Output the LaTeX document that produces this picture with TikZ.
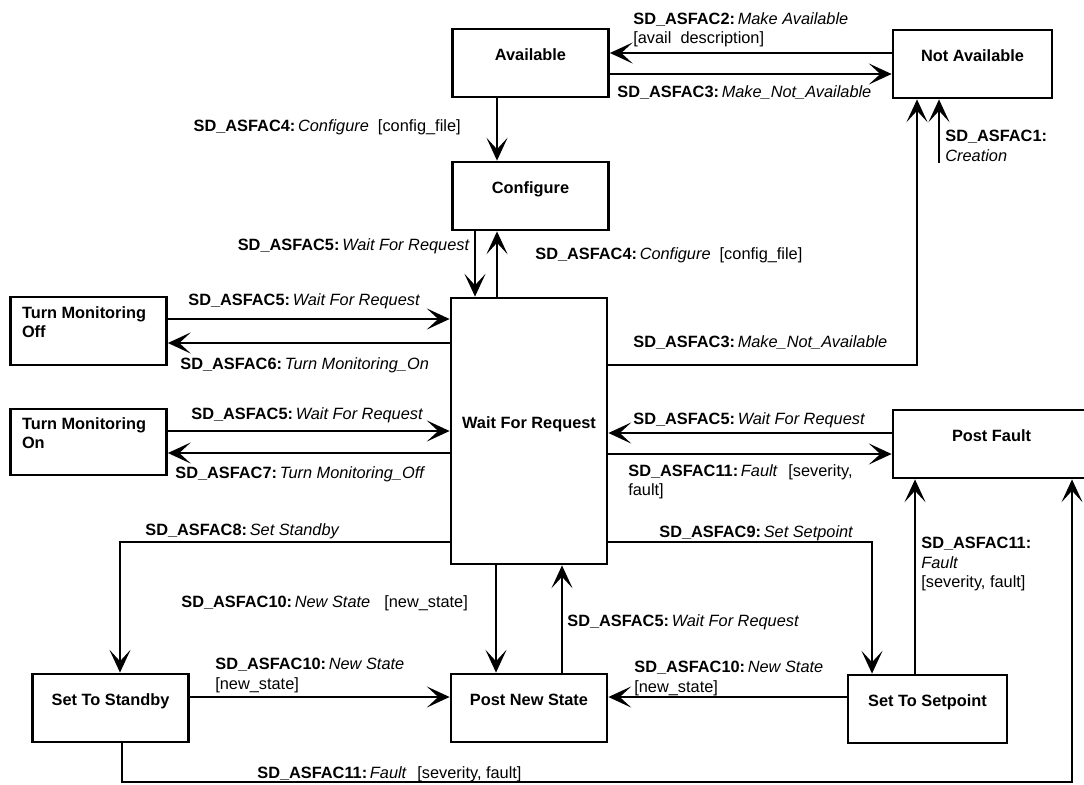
\documentclass[tikz,border=0pt]{standalone}
\usepackage{fontspec}
\setmainfont{Liberation Sans}
\usepackage{tikz}
\usetikzlibrary{arrows.meta}
\tikzset{every node/.style={font=\fontsize{9.3}{11}\selectfont},
  state/.style={draw,line width=1.6pt,inner sep=0pt,minimum width=3.12cm,minimum height=1.36cm,
    font=\fontsize{9.3}{11}\selectfont\bfseries,text height=6.7pt,text depth=10.1pt},
  twoline/.style={text depth=21.5pt},
  lbl/.style={inner sep=0pt,align=left},
  flow/.style={-{Stealth[length=13pt,width=12pt,inset=6.5pt]},line width=1pt}}
\newcommand{\sdlbl}[2]{\textbf{SD\_ASFAC#1:}\,\textit{#2}}

\begin{document}
\begin{tikzpicture}[x=0.02cm,y=-0.02cm]
        % \draw[help lines,step=50] (0,0) grid (1084,784);
        \useasboundingbox (0,0) rectangle (1084,784);

        \node[state] (avail) at (530.5,63) {Available};
        \node[state,minimum width=3.18cm] (notavail) at (972.5,64) {Not Available};
        \node[state] (config) at (530.5,196) {Configure};
        \node[state,minimum height=5.32cm] (wfr) at (529,431) {Wait For Request};
        \node[state,twoline] (tmoff) at (88.5,331) {\parbox[t]{2.66cm}{Turn Monitoring\\Off}};
        \node[state,twoline,minimum height=1.32cm] (tmon) at (88.5,442) {\parbox[t]{2.66cm}{Turn Monitoring\\On}};
        \node[state,minimum width=3.94cm] (postfault) at (991.5,444) {Post Fault};
        \node[state] (standby) at (110.5,708) {Set To Standby};
        \node[state] (pns) at (529,708) {Post New State};
        \node[state,minimum width=3.18cm] (setpoint) at (927.5,709) {Set To Setpoint};

        % not available to available
        \draw[flow] (notavail.west |- 0,53) -- (avail.east |- 0,53);
        \node[lbl,anchor=north west] (l2) at (633,12) {\sdlbl{2}{Make Available}\\{[}avail~~description{]}};

        % available to not available
        \draw[flow] (avail.east |- 0,74) -- (notavail.west |- 0,74);
        \node[lbl,anchor=base west] (l3a) at (617,97) {\sdlbl{3}{Make\_Not\_Available}};

        % creation
        \coordinate (create) at (939,163);
        \draw[flow] (create) -- (create |- notavail.south);
        \node[lbl,anchor=north west] (l1) at (945,130) {\textbf{SD\_ASFAC1:}\\\textit{Creation}};

        % available to configure
        \draw[flow] (497,0 |- avail.south) -- (497,0 |- config.north);
        \node[lbl,anchor=base east] (l4a) at (461,132) {\sdlbl{4}{Configure}~~[config\_file]};

        % configure to wait for request
        \draw[flow] (475,0 |- config.south) -- (475,0 |- wfr.north);
        \node[lbl,anchor=base east] (l5a) at (470,250) {\sdlbl{5}{Wait For Request}};

        % wait for request to configure
        \draw[flow] (497,0 |- wfr.north) -- (497,0 |- config.south);
        \node[lbl,anchor=base west] (l4b) at (535,259) {\sdlbl{4}{Configure}~~[config\_file]};

        % wait for request to not available
        \draw[flow] (wfr.east |- 0,365) -| (917,0 |- notavail.south);
        \node[lbl,anchor=base west] (l3b) at (633,347) {\sdlbl{3}{Make\_Not\_Available}};

        % turn monitoring off
        \draw[flow] (tmoff.east |- 0,319) -- (wfr.west |- 0,319);
        \node[lbl,anchor=base west] (l5b) at (188,305) {\sdlbl{5}{Wait For Request}};
        \draw[flow] (wfr.west |- 0,343) -- (tmoff.east |- 0,343);
        \node[lbl,anchor=base west] (l6) at (180,369) {\sdlbl{6}{Turn Monitoring\_On}};

        % turn monitoring on
        \draw[flow] (tmon.east |- 0,431) -- (wfr.west |- 0,431);
        \node[lbl,anchor=base west] (l5c) at (191,419) {\sdlbl{5}{Wait For Request}};
        \draw[flow] (wfr.west |- 0,453) -- (tmon.east |- 0,453);
        \node[lbl,anchor=base west] (l7) at (175,478) {\sdlbl{7}{Turn Monitoring\_Off}};

        % post fault
        \draw[flow] (postfault.west |- 0,433) -- (wfr.east |- 0,433);
        \node[lbl,anchor=base west] (l5d) at (633,424) {\sdlbl{5}{Wait For Request}};
        \draw[flow] (wfr.east |- 0,454) -- (postfault.west |- 0,454);
        \node[lbl,anchor=north west] (l11a) at (628,464) {\sdlbl{11}{Fault}\hspace{6pt}[severity,\\fault]};

        % set standby and set setpoint
        \draw[flow] (wfr.west |- 0,542) -| (120,0 |- standby.north);
        \node[lbl,anchor=base west] (l8) at (145,535) {\sdlbl{8}{Set Standby}};
        \draw[flow] (wfr.east |- 0,542) -| (872,0 |- setpoint.north);
        \node[lbl,anchor=base west] (l9) at (659,537) {\sdlbl{9}{Set Setpoint}};

        % wait for request and post new state
        \draw[flow] (496,0 |- wfr.south) -- (496,0 |- pns.north);
        \node[lbl,anchor=base west] (l10a) at (181,607) {\sdlbl{10}{New State}\hspace{8pt}[new\_state]};
        \draw[flow] (562,0 |- pns.north) -- (562,0 |- wfr.south);
        \node[lbl,anchor=base west] (l5e) at (567,626) {\sdlbl{5}{Wait For Request}};

        % new state from standby and setpoint
        \draw[flow] (standby.east |- 0,697) -- (pns.west |- 0,697);
        \node[lbl,anchor=north west] (l10b) at (215,658) {\sdlbl{10}{New State}\\{[}new\_state{]}};
        \draw[flow] (setpoint.west |- 0,697) -- (pns.east |- 0,697);
        \node[lbl,anchor=north west] (l10c) at (634,661) {\sdlbl{10}{New State}\\{[}new\_state{]}};

        % faults to post fault
        \draw[flow] (915,0 |- setpoint.north) -- (915,0 |- postfault.south);
        \node[lbl,anchor=north west] (l11b) at (921,537) {\textbf{SD\_ASFAC11:}\\\textit{Fault}\\{[}severity, fault{]}};
        \draw[flow] (122,0 |- standby.south) -- (122,782) -| (1072,0 |- postfault.south);
        \node[lbl,anchor=base west] (l11c) at (257,778) {\sdlbl{11}{Fault}\hspace{6pt}[severity, fault]};

    \end{tikzpicture}
\end{document}
